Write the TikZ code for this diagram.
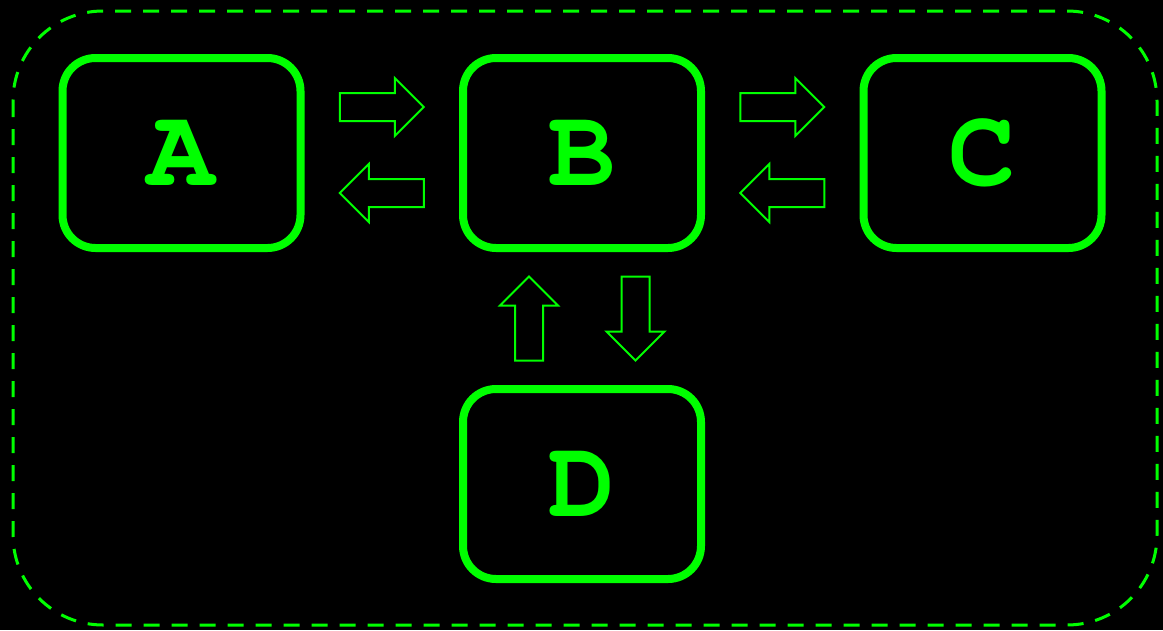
\documentclass[tikz,border=0pt]{standalone}
\usepackage{fontspec}
\newfontfamily\labfont{texgyrecursor}[Extension=.otf, UprightFont=*-regular, BoldFont=*-bold]
\usetikzlibrary{calc}
\definecolor{neon}{HTML}{00FF00}
\tikzset{
  box/.style={draw=neon, line width=8pt, rounded corners=33pt, minimum width=238pt, minimum height=190pt, inner sep=0pt, text=neon, font=\labfont\bfseries\fontsize{112}{112}\selectfont},
  arrowline/.style={draw=neon, line width=2pt, line join=miter},
  barrow/.pic={\draw[arrowline] (-42,-14) -- (13,-14) -- (13,-29) -- (42,0) -- (13,29) -- (13,14) -- (-42,14) -- cycle;}
}
\begin{document}
\begin{tikzpicture}[x=1pt,y=-1pt]
\fill[black] (0,0) rectangle (1163,630);
\useasboundingbox (0,0) rectangle (1163,630);
\draw[neon, line width=3pt, dash pattern=on 16pt off 12pt, rounded corners=90pt] (13,11) rectangle (1157,625);
\node[box] (A) at (181.5,153) {A};
\node[box] (B) at (582,153) {B};
\node[box] (C) at (982.5,153) {C};
\node[box] (D) at (582,484) {D};
\coordinate (ab) at ($(A.east)!0.5!(B.west)$);
\coordinate (bc) at ($(B.east)!0.5!(C.west)$);
\coordinate (bd) at ($(B.south)!0.5!(D.north)$);
\pic at ([yshift=46pt]ab) {barrow};
\pic[rotate=180] at ([yshift=-40pt]ab) {barrow};
\pic at ([yshift=46pt]bc) {barrow};
\pic[rotate=180] at ([yshift=-40pt]bc) {barrow};
\pic[rotate=90] at ([xshift=-53pt]bd) {barrow};
\pic[rotate=-90] at ([xshift=53.5pt]bd) {barrow};
\end{tikzpicture}
\end{document}
